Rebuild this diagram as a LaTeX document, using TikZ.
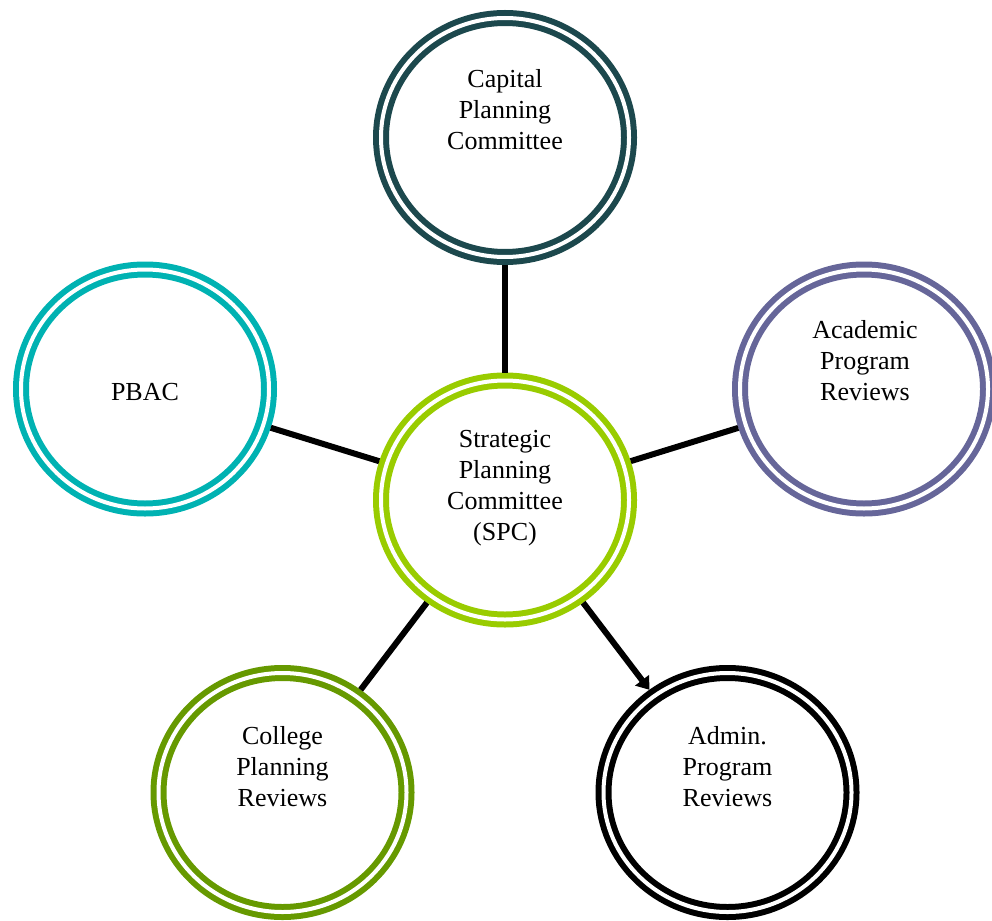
\documentclass[tikz,border=0pt]{standalone}
\usepackage{fontspec}
\setmainfont{Liberation Serif}
\usetikzlibrary{shapes.geometric,arrows.meta}
\definecolor{capcol}{RGB}{28,72,77}
\definecolor{pbaccol}{RGB}{0,178,178}
\definecolor{acadcol}{RGB}{102,102,153}
\definecolor{spccol}{RGB}{153,204,0}
\definecolor{collcol}{RGB}{102,153,0}
\definecolor{admcol}{RGB}{0,0,0}
\tikzset{
  ring/.style={ellipse, draw=#1, line width=6pt, double=white, double distance=4pt,
    minimum width=248pt, minimum height=239pt, inner sep=0pt, outer sep=8pt},
  lbl/.style={align=center, font=\fontsize{26}{31}\selectfont, text=black, inner sep=0pt},
  conn/.style={line width=6pt, draw=black}
}
\begin{document}
\begin{tikzpicture}[x=1pt,y=-1pt]
\useasboundingbox (0,0) rectangle (992,920);
\node[ring=capcol]  (cap)  at (505,137.5) {};
\node[ring=spccol]  (spc)  at (505,500)   {};
\node[ring=pbaccol] (pbac) at (145,389)   {};
\node[ring=acadcol] (acad) at (864,389)   {};
\node[ring=collcol] (coll) at (282.5,792.5) {};
\node[ring=admcol]  (adm)  at (727.5,792.5) {};

\node[lbl] (capt)  at (505,110)  {Capital\\Planning\\Committee};
\node[lbl] (spct)  at (505,488.5) {Strategic\\Planning\\Committee\\(SPC)};
\node[lbl] (pbact) at (145,392)  {PBAC};
\node[lbl] (acadt) at (865,361)  {Academic\\Program\\Reviews};
\node[lbl] (collt) at (282.5,767) {College\\Planning\\Reviews};
\node[lbl] (admt)  at (727.5,767) {Admin.\\Program\\Reviews};

\draw[conn] (spc) -- (cap);
\draw[conn] (spc) -- (pbac);
\draw[conn] (spc) -- (acad);
\draw[conn] (spc) -- (coll);
\draw[conn, -{Triangle[length=12pt,width=17pt]}] (spc) -- (adm);
\end{tikzpicture}
\end{document}
